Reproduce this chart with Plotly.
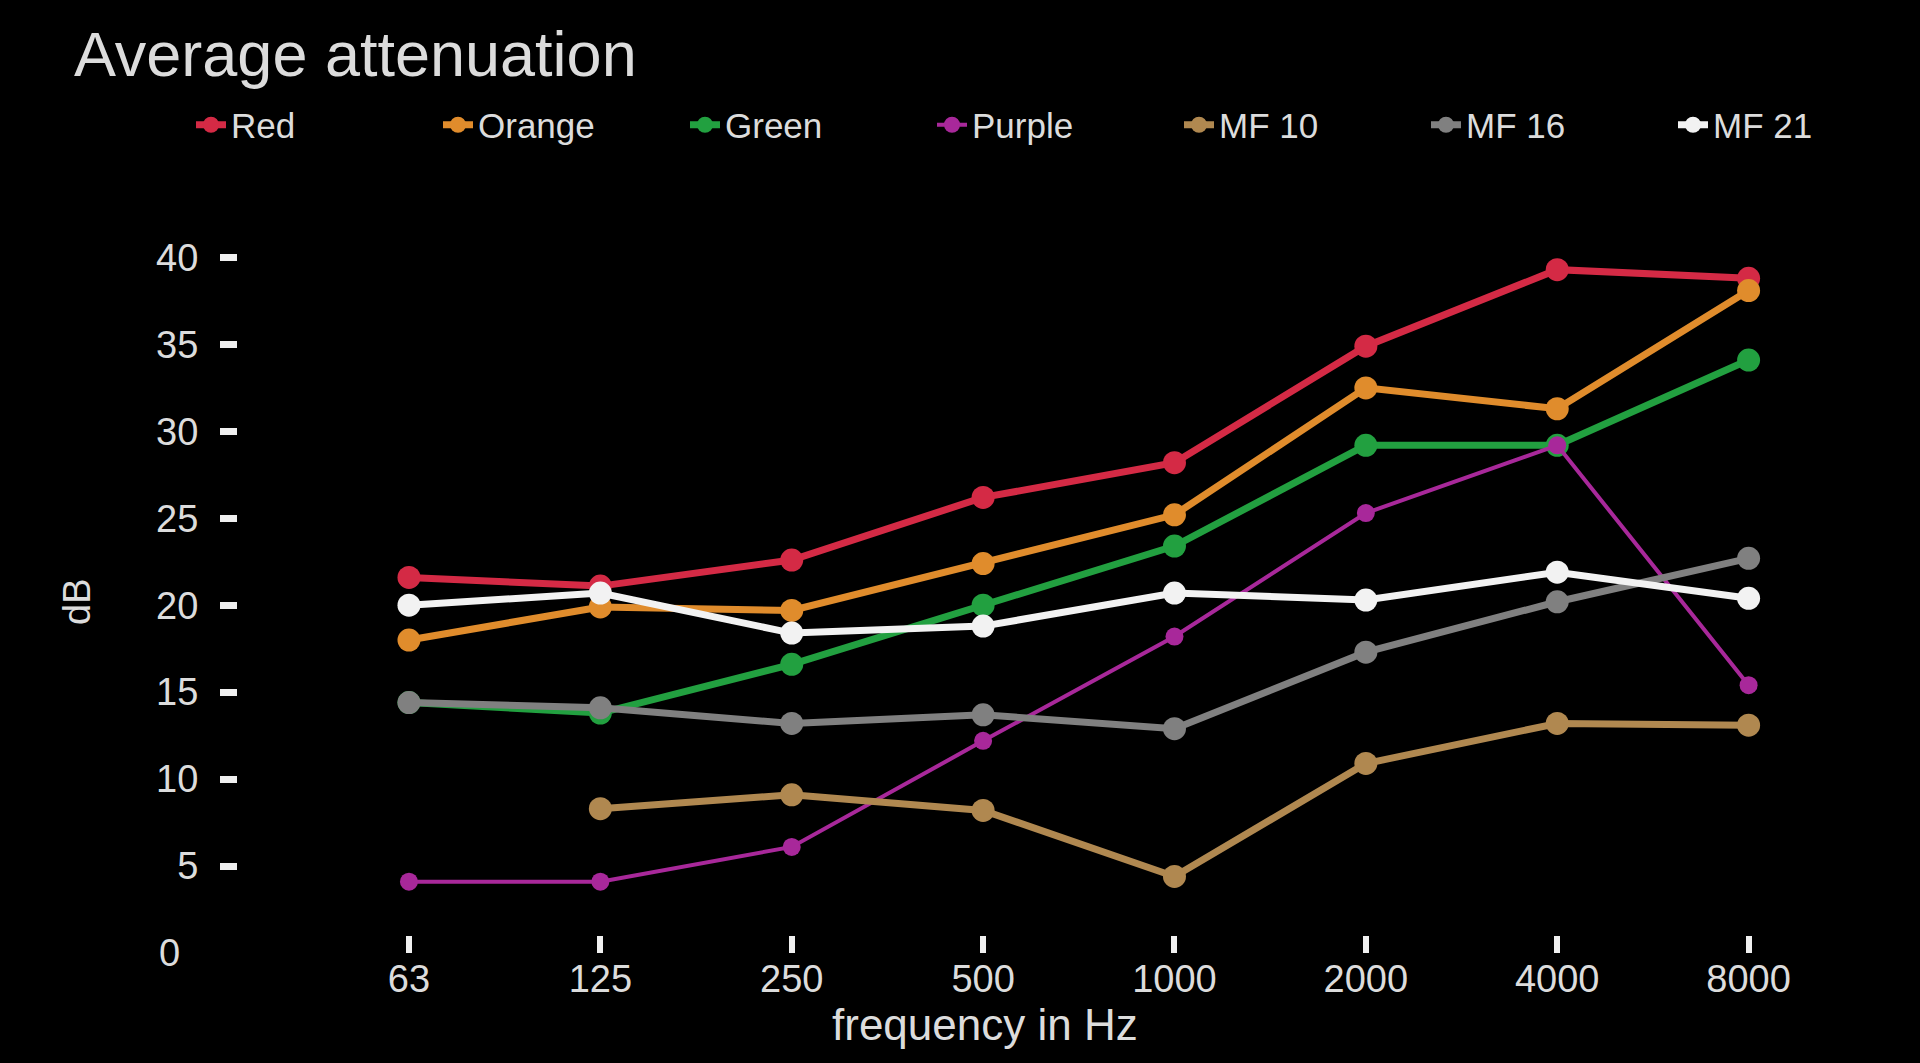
import plotly.graph_objects as go

FREQS = ["63", "125", "250", "500", "1000", "2000", "4000", "8000"]

RED = [21.6, 21.1, 22.6, 26.2, 28.2, 34.9, 39.3, 38.8]
ORANGE = [18.0, 19.9, 19.7, 22.4, 25.2, 32.5, 31.3, 38.1]
GREEN = [14.4, 13.8, 16.6, 20.0, 23.4, 29.2, 29.2, 34.1]
PURPLE = [4.1, 4.1, 6.1, 12.2, 18.2, 25.3, 29.2, 15.4]
MF10 = [None, 8.3, 9.1, 8.2, 4.4, 10.9, 13.2, 13.1]
MF16 = [14.4, 14.1, 13.2, 13.7, 12.9, 17.3, 20.2, 22.7]
MF21 = [20.0, 20.7, 18.4, 18.8, 20.7, 20.3, 21.9, 20.4]

SERIES = [
    ("Red", RED, "#d42a45", 7, 23),
    ("Orange", ORANGE, "#e08c2c", 7, 23),
    ("Green", GREEN, "#22a040", 7, 23),
    ("Purple", PURPLE, "#a8289a", 4, 18),
    ("MF 10", MF10, "#b08850", 7, 23),
    ("MF 16", MF16, "#808080", 7, 23),
    ("MF 21", MF21, "#f2f2f2", 7, 23),
]

TEXT = "#dcdcdc"
FONT = "Liberation Sans, Arial, Helvetica, sans-serif"

fig = go.Figure()
for name, vals, color, lw, ms in SERIES:
    fig.add_trace(go.Scatter(
        x=FREQS, y=vals, name=name, mode="lines+markers",
        line=dict(color=color, width=lw),
        marker=dict(color=color, size=ms),
    ))

fig.update_layout(
    width=1920, height=1063,
    paper_bgcolor="#000000", plot_bgcolor="#000000",
    font=dict(family=FONT, color=TEXT, size=38),
    margin=dict(l=238, r=75, t=230, b=110),
    title=dict(text="Average attenuation", x=0.0385, xanchor="left",
               y=0.9497, yanchor="middle", xref="container", yref="container",
               font=dict(size=63, color=TEXT)),
    legend=dict(orientation="h", xref="paper", yref="paper",
                x=-0.0168, y=1.1452, xanchor="left", yanchor="middle",
                entrywidth=202, entrywidthmode="pixels",
                font=dict(size=35, color=TEXT), bgcolor="rgba(0,0,0,0)"),
    showlegend=True,
)

fig.update_xaxes(
    type="category", range=[-0.8934, 7.5037],
    showgrid=False, zeroline=False, showline=False,
    ticks="inside", ticklen=17, tickwidth=6, tickcolor="#f0f0f0",
    tickfont=dict(size=38, color=TEXT),
)
fig.update_yaxes(
    range=[0, 41.58], tickvals=[5, 10, 15, 20, 25, 30, 35, 40],
    showgrid=False, zeroline=False, showline=False,
    ticks="outside", ticklen=17, tickwidth=7, tickcolor="#f0f0f0",
    ticklabelstandoff=14,
    tickfont=dict(size=38, color=TEXT),
)

fig.add_annotation(text="0", xref="paper", yref="y", x=0, y=0,
                   xanchor="right", yanchor="middle", xshift=-56,
                   showarrow=False, font=dict(size=38, color=TEXT))
fig.add_annotation(text="dB", xref="paper", yref="paper",
                   x=0, y=(953 - 602) / 723, xanchor="center", yanchor="middle",
                   xshift=77 - 238, textangle=-90, showarrow=False,
                   font=dict(size=38, color=TEXT))
fig.add_annotation(text="frequency in Hz", xref="paper", yref="paper",
                   x=(985 - 238) / 1607, y=0, xanchor="center", yanchor="middle",
                   yshift=-71, showarrow=False,
                   font=dict(size=44, color=TEXT))

fig.write_html("out.html", config={"displayModeBar": False},
               post_script="document.body.style.margin='0';")
